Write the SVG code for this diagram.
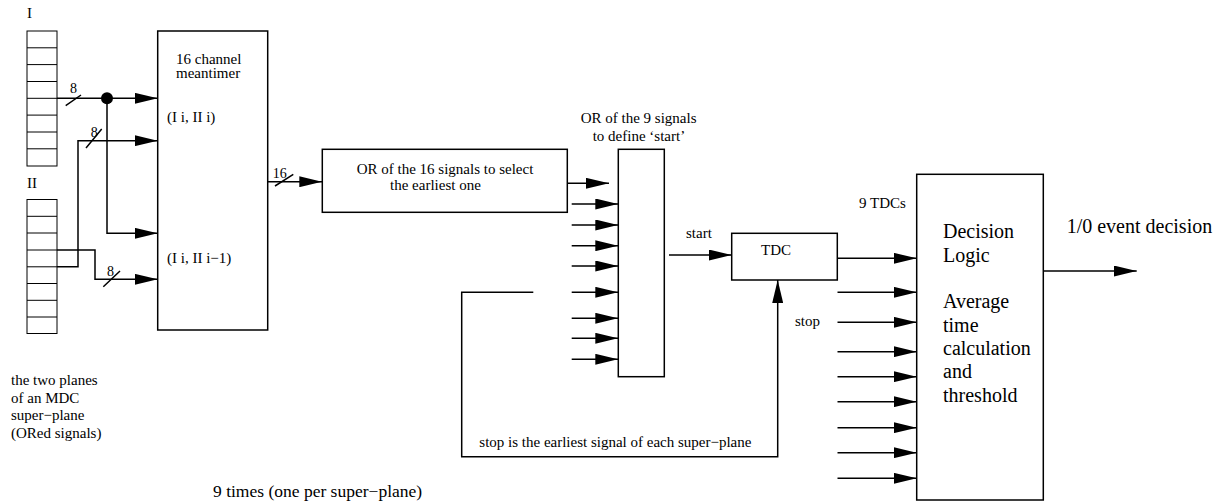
<svg xmlns="http://www.w3.org/2000/svg" width="1226" height="504" viewBox="0 0 1226 504">
<style>
  .box { fill: #fff; stroke: #000; stroke-width: 1.5; }
  .cell { fill: none; stroke: #000; stroke-width: 1; }
  .wire { fill: none; stroke: #000; stroke-width: 1.5; }
  .arr { fill: none; stroke: #000; stroke-width: 1.5; marker-end: url(#ah); }
  text { font-family: 'Liberation Serif', 'DejaVu Serif', serif; fill: #000; }
  .s14 { font-size: 14px; }
  .s15 { font-size: 15px; }
  .s18 { font-size: 17.5px; }
  .s20 { font-size: 20px; }
</style>
<defs>
  <marker id="ah" markerUnits="userSpaceOnUse" markerWidth="23" markerHeight="11" refX="23" refY="5.5" orient="auto">
    <path d="M0,0 L23,5.5 L0,11 z" fill="#000"/>
  </marker>
</defs>
<rect width="1226" height="504" fill="#fff"/>

<g id="planeI">
  <text class="s15" x="27" y="18">I</text>
  <rect class="cell" x="27" y="31" width="30" height="135"/>
  <path class="cell" d="M27,47.8H57M27,64.6H57M27,81.5H57M27,98.3H57M27,115.1H57M27,132H57M27,148.8H57"/>
</g>

<g id="planeII">
  <text class="s15" x="27" y="188">II</text>
  <rect class="cell" x="27" y="199.5" width="30" height="134"/>
  <path class="cell" d="M27,216.3H57M27,233H57M27,250H57M27,266.8H57M27,283.5H57M27,300.3H57M27,317H57"/>
</g>

<g id="meantimer">
  <rect class="box" x="157.7" y="31" width="110" height="299"/>
  <text class="s15" x="176" y="64">16 channel</text>
  <text class="s15" x="176" y="78">meantimer</text>
  <text class="s15" x="167" y="122">(I i, II i)</text>
  <text class="s15" x="167" y="263">(I i, II i−1)</text>
</g>

<g id="or16">
  <rect class="box" x="322.3" y="149.3" width="245" height="63"/>
  <text class="s15" x="356.7" y="174">OR of the 16 signals to select</text>
  <text class="s15" x="390" y="190">the earliest one</text>
</g>

<g id="or9">
  <rect class="box" x="618.3" y="149.3" width="46" height="227.4"/>
  <text class="s15" x="580.7" y="122.7">OR of the 9 signals</text>
  <text class="s15" x="592.7" y="140.7">to define ‘start’</text>
</g>

<g id="tdc">
  <rect class="box" x="731.7" y="233.3" width="105.6" height="46.7"/>
  <text class="s15" x="776" y="255" text-anchor="middle">TDC</text>
</g>

<g id="decision">
  <rect class="box" x="916.7" y="174.3" width="126.6" height="325.7"/>
  <text class="s20" x="943" y="238.3">Decision</text>
  <text class="s20" x="943" y="261.7">Logic</text>
  <text class="s20" x="943" y="308.3">Average</text>
  <text class="s20" x="943" y="331.6">time</text>
  <text class="s20" x="943" y="354.9">calculation</text>
  <text class="s20" x="943" y="378.4">and</text>
  <text class="s20" x="943" y="401.7">threshold</text>
</g>

<g id="labels">
  <text class="s15" x="859" y="207.7">9 TDCs</text>
  <text class="s15" x="686" y="237.7">start</text>
  <text class="s15" x="795" y="325.7">stop</text>
  <text class="s20" x="1066.7" y="233.3">1/0 event decision</text>
  <text class="s15" x="479.3" y="447.3">stop is the earliest signal of each super−plane</text>
  <text class="s15" x="11" y="385">the two planes</text>
  <text class="s15" x="11" y="402.5">of an MDC</text>
  <text class="s15" x="11" y="420">super−plane</text>
  <text class="s15" x="11" y="437.5">(ORed signals)</text>
  <text class="s18" x="213" y="496.7">9 times (one per super−plane)</text>
</g>

<g id="connectors">
  <path class="arr" d="M57,98.3H157.7"/>
  <circle cx="107" cy="98.3" r="6" fill="#000"/>
  <path class="arr" d="M107,98.3V233.3H157.7"/>
  <path class="arr" d="M57,266.8H78V140.7H157.7"/>
  <path class="arr" d="M57,250H95V279.3H157.7"/>
  <path class="wire" d="M65.7,105.7L81,95M86,148L101.7,129M103.3,286.7L120,271M275,186L293.3,174.3"/>
  <text class="s14" x="70" y="93">8</text>
  <text class="s14" x="90.7" y="136.7">8</text>
  <text class="s14" x="107" y="276">8</text>
  <text class="s14" x="272.7" y="177.7">16</text>
  <path class="arr" d="M267.7,181.7H322.3"/>
  <path class="arr" d="M567.3,183.3H609"/>
  <path class="arr" d="M571.7,204H618.3"/>
  <path class="arr" d="M571.7,225H618.3"/>
  <path class="arr" d="M571.7,245.7H618.3"/>
  <path class="arr" d="M571.7,266H618.3"/>
  <path class="arr" d="M571.7,292.3H618.3"/>
  <path class="arr" d="M571.7,318.3H618.3"/>
  <path class="arr" d="M571.7,338.3H618.3"/>
  <path class="arr" d="M571.7,359.3H618.3"/>
  <path class="arr" d="M669,255H731.7"/>
  <path class="arr" d="M533.3,292.3H461.7V456.7H777.7V280"/>
  <path class="arr" d="M837.3,258.3H916.7"/>
  <path class="arr" d="M837.5,292.3H916.7"/>
  <path class="arr" d="M837.5,322.3H916.7"/>
  <path class="arr" d="M837.5,351.7H916.7"/>
  <path class="arr" d="M837.5,376.7H916.7"/>
  <path class="arr" d="M837.5,401.7H916.7"/>
  <path class="arr" d="M837.5,427.7H916.7"/>
  <path class="arr" d="M837.5,452.7H916.7"/>
  <path class="arr" d="M837.5,478.3H916.7"/>
  <path class="arr" d="M1043.3,271H1136.7"/>
</g>
</svg>
